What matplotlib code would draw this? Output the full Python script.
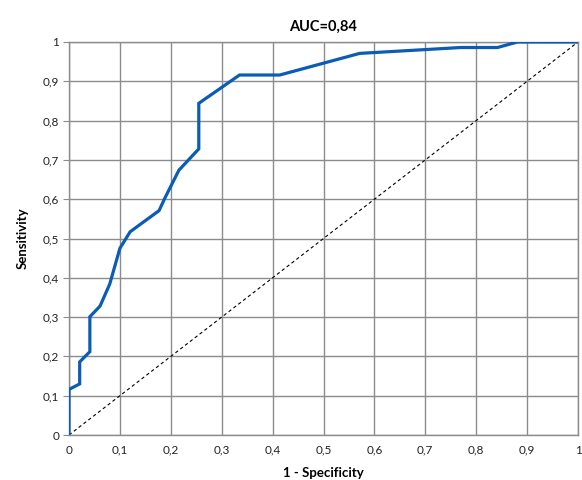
import matplotlib
matplotlib.use("Agg")
import matplotlib.pyplot as plt
from matplotlib.ticker import FuncFormatter

fpr = [0.0, 0.0, 0.021, 0.021, 0.041, 0.041, 0.061, 0.080, 0.100, 0.120,
       0.177, 0.188, 0.216, 0.255, 0.255, 0.335, 0.414, 0.571, 0.770, 0.842,
       0.881, 1.0]
tpr = [0.0, 0.116, 0.130, 0.186, 0.212, 0.301, 0.328, 0.384, 0.475, 0.517,
       0.571, 0.602, 0.674, 0.728, 0.844, 0.916, 0.916, 0.971, 0.986, 0.986,
       1.0, 1.0]
ticks = [0.0, 0.1, 0.2, 0.3, 0.4, 0.5, 0.6, 0.7, 0.8, 0.9, 1.0]

plt.rcParams['font.family'] = ['Lato', 'DejaVu Sans']

fig = plt.figure(figsize=(5.82, 4.80), dpi=100)
ax = fig.add_axes([69/582, 45/480, (578-69)/582, (435-42)/480])

ax.plot([0, 1], [0, 1], color='black', linestyle=(0, (3, 2.5)), linewidth=0.8, zorder=2)
ax.plot(fpr, tpr, color='#0a5cb5', linewidth=2.3, zorder=3, solid_joinstyle='miter')

ax.set_xlim(0, 1)
ax.set_ylim(0, 1)
ax.set_xticks(ticks)
ax.set_yticks(ticks)
fmt = FuncFormatter(lambda v, p: ('%g' % round(v, 1)).replace('.', ','))
ax.xaxis.set_major_formatter(fmt)
ax.yaxis.set_major_formatter(fmt)
ax.grid(True, color='#8c8c8c', linewidth=1.0, zorder=1)
ax.set_axisbelow(True)
for s in ax.spines.values():
    s.set_color('#8c8c8c')
    s.set_linewidth(1.0)
ax.tick_params(axis='y', length=4, color='#8c8c8c', labelsize=8.5, pad=3, labelcolor='#222222')
ax.tick_params(axis='x', length=0, labelsize=8.5, pad=7, labelcolor='#222222')

ax.set_title('AUC=0,84', fontsize=10.5, fontweight='bold', pad=8)
ax.set_xlabel('1 - Specificity', fontsize=9.5, fontweight='bold', labelpad=8)
ax.set_ylabel('Sensitivity', fontsize=9.5, fontweight='bold', labelpad=10)

fig.savefig('out.png', dpi=100)
